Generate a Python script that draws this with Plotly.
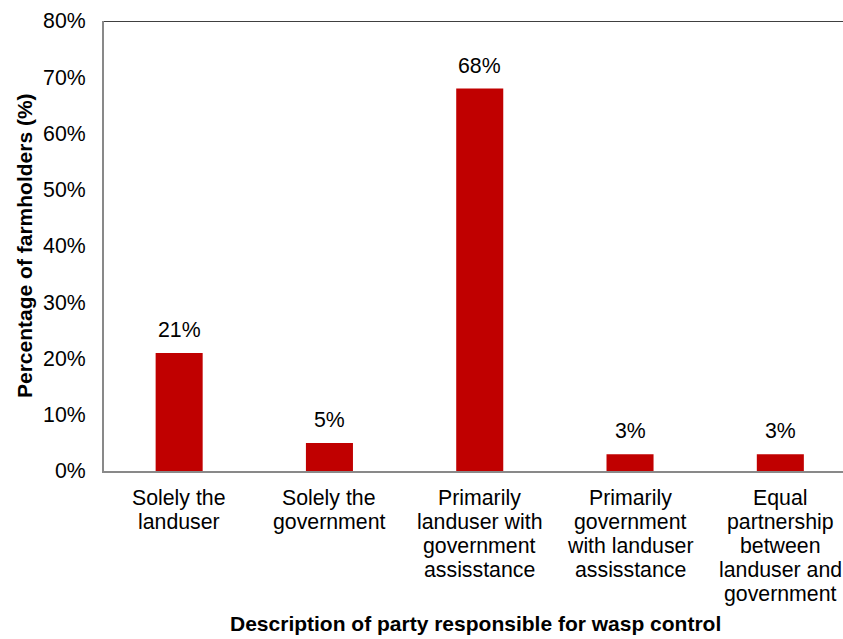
import plotly.graph_objects as go

categories = [
    "Solely the<br>landuser",
    "Solely the<br>government",
    "Primarily<br>landuser with<br>government<br>assisstance",
    "Primarily<br>government<br>with landuser<br>assisstance",
    "Equal<br>partnership<br>between<br>landuser and<br>government",
]
values = [21, 5, 68, 3, 3]
value_labels = ["21%", "5%", "68%", "3%", "3%"]
y_ticks = [0, 10, 20, 30, 40, 50, 60, 70, 80]
y_tick_labels = ["0%", "10%", "20%", "30%", "40%", "50%", "60%", "70%", "80%"]

FONT = "Liberation Sans, Arial, sans-serif"
FS = 21.3
FS_TITLE = 21.0
x_idx = list(range(len(categories)))

PLOT_L, PLOT_T, PLOT_B = 104, 21, 471
W, H = 843, 639
PW = W - PLOT_L
PH = PLOT_B - PLOT_T

fig = go.Figure()
fig.add_trace(go.Bar(
    x=x_idx, y=values,
    marker=dict(color="#C00000", line=dict(width=0)),
    width=0.313,
    hoverinfo="skip",
))

# value labels above bars
for i, (v, lab) in enumerate(zip(values, value_labels)):
    fig.add_annotation(x=i, y=v, text=lab, showarrow=False, yanchor="bottom",
                       yshift=9, font=dict(family=FONT, size=FS, color="#000"))

# category labels (multi-line, tight line spacing)
LINE_H = 24.0
for i, cat in enumerate(categories):
    for k, line in enumerate(cat.split("<br>")):
        fig.add_annotation(x=i, xref="x", yref="paper", y=0, text=line,
                           showarrow=False, xanchor="center", yanchor="middle",
                           yshift=-(27 + LINE_H * k),
                           font=dict(family=FONT, size=FS, color="#000"))

# x axis title
fig.add_annotation(xref="paper", yref="paper", x=(475 - PLOT_L) / PW,
                   y=-(623 - PLOT_B) / PH,
                   text="<b>Description of party responsible for wasp control</b>",
                   showarrow=False, xanchor="center", yanchor="middle",
                   font=dict(family=FONT, size=FS_TITLE, color="#000"))

# y axis title
fig.add_annotation(xref="paper", yref="paper", x=(24 - PLOT_L) / PW,
                   y=0.5, textangle=-90,
                   text="<b>Percentage of farmholders (%)</b>",
                   showarrow=False, xanchor="center", yanchor="middle",
                   font=dict(family=FONT, size=FS_TITLE, color="#000"))

fig.add_shape(type="line", xref="paper", yref="y", x0=0, x1=1, y0=80, y1=80,
              line=dict(color="#000", width=1.3))

fig.update_layout(
    width=W, height=H,
    margin=dict(l=PLOT_L, r=0, t=PLOT_T, b=H - PLOT_B),
    paper_bgcolor="white", plot_bgcolor="white",
    showlegend=False,
    font=dict(family=FONT, size=FS, color="#000"),
    xaxis=dict(
        range=[-0.5, 4.417],
        tickmode="array", tickvals=x_idx, ticktext=[""] * len(x_idx),
        showline=True, linecolor="#898989", linewidth=2,
        showgrid=False, zeroline=False,
        fixedrange=True,
    ),
    yaxis=dict(
        range=[0, 80],
        tickmode="array", tickvals=y_ticks, ticktext=y_tick_labels,
        showline=True, linecolor="#898989", linewidth=2,
        showgrid=False, zeroline=False,
        ticks="outside", ticklen=12, tickcolor="rgba(0,0,0,0)",
        tickfont=dict(family=FONT, size=FS, color="#000"),
        fixedrange=True,
    ),
)

fig.write_html("out.html")
